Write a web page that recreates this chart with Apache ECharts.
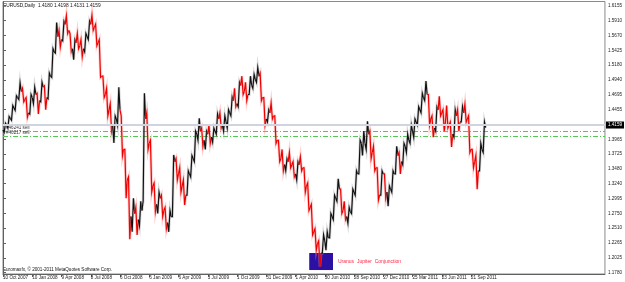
<!DOCTYPE html>
<html>
<head>
<meta charset="utf-8">
<script src="https://cdn.jsdelivr.net/npm/echarts@6/dist/echarts.min.js"></script>
<style>
  html, body { margin: 0; padding: 0; background: #fff; }
  #chart { width: 625px; height: 282px; }
</style>
</head>
<body>
<div id="chart"></div>
<script>
// EURUSD daily, Oct 2007 - Oct 2011, one point = a block of 8 daily bars
var xLabels = ['10 Oct 2007', '10 Jan 2008', '9 Apr 2008', '8 Jul 2008', '6 Oct 2008', '6 Jan 2009',
  '6 Apr 2009', '3 Jul 2009', '1 Oct 2009', '31 Dec 2009', '1 Apr 2010', '30 Jun 2010',
  '28 Sep 2010', '27 Dec 2010', '25 Mar 2011', '23 Jun 2011', '21 Sep 2011']
var yTicks = [1.1780, 1.2025, 1.2265, 1.2510, 1.2750, 1.2995, 1.3240, 1.3480, 1.3725, 1.3965,
  1.4210, 1.4455, 1.4695, 1.4940, 1.5180, 1.5425, 1.5670, 1.5910, 1.6155]

var lows = [
  1.4080, 1.4150, 1.4280, 1.4440, 1.4620, 1.4580, 1.4330, 1.4380, 1.4550, 1.4380,
  1.4580, 1.4450, 1.4630, 1.4980, 1.5380, 1.5480, 1.5580, 1.5700, 1.5400, 1.5270,
  1.5450, 1.5320, 1.5400, 1.5600, 1.5750, 1.5500, 1.4980, 1.4650, 1.4350, 1.4100,
  1.3905, 1.4200, 1.3700, 1.3000, 1.2330, 1.2450, 1.2400, 1.2550, 1.2950, 1.3800,
  1.3100, 1.2780, 1.2750, 1.2700, 1.2500, 1.2450, 1.2700, 1.3300, 1.3100, 1.2890,
  1.3050, 1.3350, 1.3600, 1.3950, 1.3850, 1.3800, 1.3900, 1.3920, 1.4050, 1.4150,
  1.4100, 1.4150, 1.4350, 1.4500, 1.4500, 1.4700, 1.4600, 1.4700, 1.4800, 1.4900,
  1.4600, 1.4200, 1.4250, 1.4300, 1.3900, 1.3600, 1.3450, 1.3450, 1.3500, 1.3350,
  1.3300, 1.3450, 1.3100, 1.2800, 1.2400, 1.2150, 1.1880, 1.2100, 1.2150, 1.2350,
  1.2650, 1.2950, 1.2750, 1.2650, 1.2590, 1.2750, 1.3050, 1.3400, 1.3700, 1.3800,
  1.3650, 1.3450, 1.2970, 1.3050, 1.3000, 1.2870, 1.3100, 1.3400, 1.3400, 1.3550,
  1.3750, 1.3900, 1.4000, 1.4200, 1.4400, 1.4600, 1.4200, 1.4000, 1.4100, 1.4350,
  1.4100, 1.4150, 1.3840, 1.4000, 1.4100, 1.4250, 1.4250, 1.3750, 1.3500, 1.3150,
  1.3450, 1.3750
]
var highs = [
  1.4230, 1.4340, 1.4520, 1.4680, 1.4890, 1.4800, 1.4650, 1.4700, 1.4820, 1.4720,
  1.4900, 1.4840, 1.5050, 1.5450, 1.5880, 1.5750, 1.5900, 1.5990, 1.5700, 1.5600,
  1.5700, 1.5600, 1.5700, 1.5900, 1.6000, 1.5850, 1.5600, 1.5000, 1.4800, 1.4550,
  1.4350, 1.4820, 1.4350, 1.3800, 1.3350, 1.3000, 1.2850, 1.2950, 1.4720, 1.4400,
  1.3950, 1.3250, 1.3100, 1.3050, 1.2850, 1.2800, 1.3710, 1.3650, 1.3500, 1.3300,
  1.3450, 1.3700, 1.4100, 1.4310, 1.4150, 1.4100, 1.4200, 1.4150, 1.4380, 1.4400,
  1.4350, 1.4450, 1.4660, 1.4800, 1.4900, 1.5000, 1.4900, 1.5000, 1.5030, 1.5140,
  1.5050, 1.4650, 1.4450, 1.4560, 1.4350, 1.3950, 1.3800, 1.3650, 1.3750, 1.3600,
  1.3600, 1.3680, 1.3500, 1.3250, 1.2900, 1.2500, 1.2300, 1.2400, 1.2450, 1.2750,
  1.3050, 1.3320, 1.3150, 1.2950, 1.2850, 1.3150, 1.3450, 1.3950, 1.4100, 1.4260,
  1.4100, 1.3850, 1.3500, 1.3450, 1.3400, 1.3200, 1.3450, 1.3850, 1.3750, 1.3900,
  1.4050, 1.4200, 1.4300, 1.4500, 1.4720, 1.4920, 1.4700, 1.4350, 1.4500, 1.4670,
  1.4450, 1.4520, 1.4250, 1.4450, 1.4450, 1.4500, 1.4540, 1.4350, 1.3800, 1.3700,
  1.3900, 1.4250
]
var closes = [
  1.4200, 1.4310, 1.4480, 1.4650, 1.4750, 1.4620, 1.4400, 1.4650, 1.4700, 1.4600,
  1.4820, 1.4650, 1.5000, 1.5400, 1.5650, 1.5600, 1.5850, 1.5750, 1.5450, 1.5550,
  1.5500, 1.5450, 1.5650, 1.5850, 1.5800, 1.5550, 1.5000, 1.4700, 1.4450, 1.4200,
  1.4300, 1.4450, 1.3800, 1.3300, 1.2700, 1.2750, 1.2650, 1.2800, 1.4300, 1.3900,
  1.3200, 1.2900, 1.3000, 1.2800, 1.2600, 1.2700, 1.3600, 1.3400, 1.3200, 1.3050,
  1.3400, 1.3650, 1.4050, 1.4100, 1.3950, 1.4050, 1.4000, 1.4100, 1.4300, 1.4200,
  1.4250, 1.4400, 1.4600, 1.4550, 1.4850, 1.4750, 1.4700, 1.4850, 1.4950, 1.5000,
  1.4650, 1.4300, 1.4400, 1.4350, 1.3950, 1.3650, 1.3550, 1.3600, 1.3550, 1.3400,
  1.3550, 1.3500, 1.3200, 1.2850, 1.2450, 1.2250, 1.2100, 1.2300, 1.2350, 1.2700,
  1.3000, 1.3150, 1.2800, 1.2700, 1.2780, 1.3100, 1.3400, 1.3900, 1.3900, 1.4050,
  1.3750, 1.3500, 1.3050, 1.3400, 1.3100, 1.3150, 1.3400, 1.3700, 1.3600, 1.3850,
  1.3950, 1.4100, 1.4250, 1.4450, 1.4650, 1.4700, 1.4300, 1.4150, 1.4450, 1.4400,
  1.4250, 1.4200, 1.4050, 1.4350, 1.4250, 1.4400, 1.4300, 1.3800, 1.3600, 1.3450,
  1.3800, 1.4159
]
var firstOpen = 1.4120
var barsPerPoint = 8
var barsPerLabel = 64
var lastBarSlot = 1317

var quote = { open: 1.4180, high: 1.4198, low: 1.4131, close: 1.4159 }
var orderPrices = [1.4094, 1.4028]
var orderNames = ['#46241 sell', '#46217 sell']
// annotation box: bar numbers and prices
var noteBars = [670, 722]
var notePrices = [1.2103, 1.1824]
var noteText = 'Uranus  Jupiter  Conjunction'

var points = highs.map(function(h, i) {
  var open = i ? closes[i - 1] : firstOpen
  return [i * barsPerPoint + barsPerPoint / 2, lows[i], h, closes[i], open]
})
var labelBars = xLabels.map(function(l, i) { return i * barsPerLabel })

var font = '"Liberation Sans", Arial, sans-serif'

// horizontal order line drawn through the axes, with its ticket label at the left
function orderSeries(price, name) {
  return {
    type: 'custom',
    z: 2,
    silent: true,
    data: [[0, price]],
    renderItem: function(params, api) {
      var a = api.coord([0, api.value(1)])
      var b = api.coord([lastBarSlot, api.value(1)])
      var y = Math.round(a[1]) + 0.5
      return {
        type: 'group',
        children: [
          { type: 'line', shape: { x1: a[0], y1: y, x2: b[0], y2: y },
            style: { stroke: '#52c852', lineWidth: 1, lineDash: [5, 2, 1, 2] } },
          { type: 'text', x: a[0] + 3, y: y - 1,
            style: { text: name, fill: '#333', font: '4.6px ' + font, textVerticalAlign: 'bottom' } }
        ]
      }
    }
  }
}

var chart = echarts.init(document.getElementById('chart'))
chart.setOption({
  animation: false,
  backgroundColor: '#fff',
  grid: { left: 1, right: 18, top: 1.5, bottom: 8, show: true, borderColor: '#8a8a8a', borderWidth: 1 },
  xAxis: {
    type: 'value',
    min: 0,
    max: lastBarSlot,
    axisLine: { show: true, onZero: false, lineStyle: { color: '#606060' } },
    axisTick: { show: true, customValues: labelBars, length: 3, lineStyle: { color: '#606060' } },
    axisLabel: {
      customValues: labelBars,
      formatter: function(v) { return xLabels[Math.round(v / barsPerLabel)] },
      align: 'left', margin: 1, fontSize: 4.6, color: '#222', fontFamily: font
    },
    splitLine: { show: false }
  },
  yAxis: {
    type: 'value',
    position: 'right',
    min: 1.1759,
    max: 1.6224,
    axisLine: { show: true, lineStyle: { color: '#606060' } },
    axisTick: { show: true, customValues: yTicks, length: 3, lineStyle: { color: '#606060' } },
    axisLabel: {
      customValues: yTicks,
      formatter: function(v) { return v.toFixed(4) },
      margin: 3, fontSize: 4.6, color: '#222', fontFamily: font
    },
    splitLine: { show: false }
  },
  graphic: [
    { type: 'text', left: 3, top: 3, style: {
      text: 'EURUSD,Daily  ' + [quote.open, quote.high, quote.low, quote.close].map(function(v) { return v.toFixed(4) }).join(' '),
      font: '4.8px ' + font, fill: '#111' } },
    { type: 'text', left: 3, top: 267, style: {
      text: 'Euromaxfx, \u00a9 2001-2011 MetaQuotes Software Corp.', font: '4.6px ' + font, fill: '#111' } }
  ],
  series: [
    {
      // annotation box and bid price line
      type: 'line',
      data: [],
      z: 1,
      markArea: {
        silent: true,
        itemStyle: { color: '#2c10a4', opacity: 1 },
        label: { show: true, position: 'right', distance: 5, color: '#ff2845', fontSize: 5, fontFamily: font },
        data: [[
          { name: noteText, xAxis: noteBars[0], yAxis: notePrices[0] },
          { xAxis: noteBars[1], yAxis: notePrices[1] }
        ]]
      },
      markLine: {
        silent: true,
        symbol: ['none', 'none'],
        lineStyle: { color: '#d0d4de', width: 2, type: 'solid', opacity: 1 },
        label: { show: true, position: 'end', distance: 1, formatter: quote.close.toFixed(4),
          backgroundColor: '#000', color: '#fff', padding: [1, 2], fontSize: 4.6, fontFamily: font },
        data: [{ yAxis: quote.close }]
      }
    },
    orderSeries(orderPrices[0], orderNames[0]),
    orderSeries(orderPrices[1], orderNames[1]),
    {
      type: 'custom',
      z: 3,
      data: points,
      encode: { x: 0, y: [1, 2] },
      renderItem: function(params, api) {
        var x = api.value(0)
        var w = api.size([barsPerPoint, 0])[0] / 2
        var down = api.value(3) < api.value(4)
        // trace open -> extreme -> extreme -> close across the block
        var first = down ? api.value(2) : api.value(1)
        var second = down ? api.value(1) : api.value(2)
        var pts = [
          api.coord([x, api.value(4)]), api.coord([x, first]),
          api.coord([x, second]), api.coord([x, api.value(3)])
        ]
        pts[0][0] -= w; pts[1][0] -= w * 0.35; pts[2][0] += w * 0.35; pts[3][0] += w
        var stroke = down ? '#ee0000' : '#111'
        return {
          type: 'group',
          children: [
            { type: 'polyline', shape: { points: pts },
              style: { stroke: down ? 'rgba(255,130,130,0.4)' : 'rgba(160,160,160,0.4)', lineWidth: 2.8, fill: null } },
            { type: 'polyline', shape: { points: pts },
              style: { stroke: stroke, lineWidth: 1.2, fill: null } }
          ]
        }
      }
    }
  ]
})
</script>
</body>
</html>
